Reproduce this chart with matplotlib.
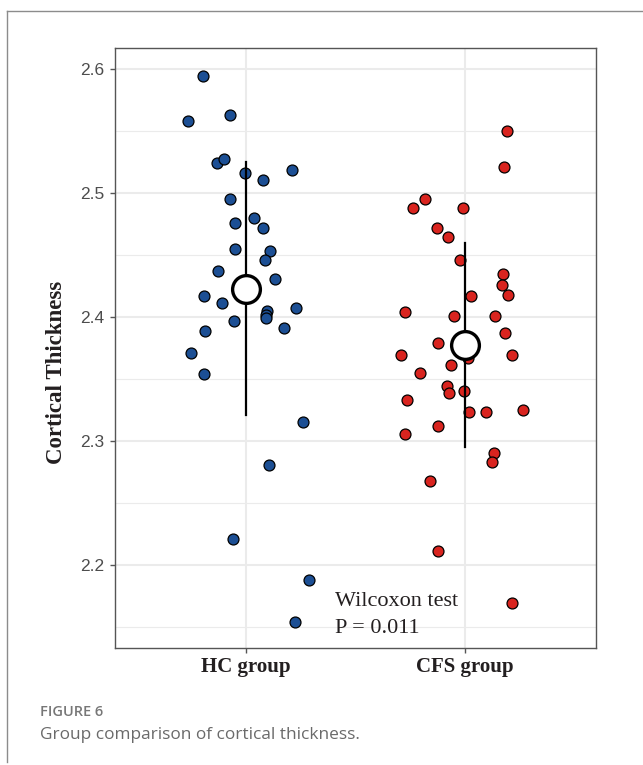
import matplotlib.pyplot as plt
from matplotlib.lines import Line2D

# Group labels
groups = ["HC group", "CFS group"]

# HC group: jittered x position and cortical thickness
hc_x = [0.802, 0.734, 0.924, 0.868, 0.900, 0.994, 1.078, 1.211, 0.925, 0.951,
        1.038, 1.078, 0.951, 1.111, 1.085, 0.871, 1.130, 0.805, 0.891, 1.096,
        1.091, 1.091, 1.228, 0.944, 1.173, 0.810, 0.749, 0.807, 1.261, 1.106,
        0.939, 1.289, 1.225]
hc_y = [2.595, 2.558, 2.563, 2.524, 2.528, 2.516, 2.511, 2.519, 2.495, 2.476,
        2.480, 2.472, 2.455, 2.453, 2.446, 2.437, 2.431, 2.417, 2.411, 2.405,
        2.402, 2.399, 2.407, 2.397, 2.391, 2.389, 2.371, 2.354, 2.315, 2.281,
        2.221, 2.188, 2.154]

# CFS group
cfs_x = [2.192, 2.180, 1.818, 1.761, 1.991, 1.872, 1.922, 1.980, 2.173, 2.169,
         2.197, 2.026, 1.728, 1.951, 2.137, 2.182, 1.878, 1.708, 2.214, 2.015,
         1.937, 1.794, 1.917, 1.928, 1.997, 1.737, 2.021, 2.096, 2.268, 1.878,
         1.726, 2.134, 2.126, 1.840, 1.877, 2.217]
cfs_y = [2.550, 2.521, 2.495, 2.488, 2.488, 2.472, 2.465, 2.446, 2.435, 2.426,
         2.418, 2.417, 2.404, 2.401, 2.401, 2.387, 2.379, 2.369, 2.369, 2.367,
         2.361, 2.355, 2.344, 2.339, 2.340, 2.333, 2.323, 2.323, 2.325, 2.312,
         2.306, 2.290, 2.283, 2.268, 2.211, 2.169]

# mean and sd per group
means = [2.423, 2.3775]
sds = [0.102, 0.082]

blue = "#1c4f94"
red = "#d9241f"

fig = plt.figure(figsize=(6.43, 7.65), dpi=100)
ax = fig.add_axes([115 / 643, 1 - 648 / 765, 481 / 643, 600 / 765])

ax.set_xlim(0.4, 2.6)
ax.set_ylim(2.1329, 2.6172)

# grid
for v in [2.15, 2.25, 2.35, 2.45, 2.55]:
    ax.axhline(v, color="#ebebeb", lw=0.8, zorder=0)
for v in [2.2, 2.3, 2.4, 2.5, 2.6]:
    ax.axhline(v, color="#ebebeb", lw=1.5, zorder=0)
for v in [1, 2]:
    ax.axvline(v, color="#ebebeb", lw=1.5, zorder=0)

ax.scatter(hc_x, hc_y, s=62, c=blue, edgecolors="black", linewidths=0.9, zorder=2)
ax.scatter(cfs_x, cfs_y, s=62, c=red, edgecolors="black", linewidths=0.9, zorder=2)

for i, (m, s) in enumerate(zip(means, sds)):
    ax.plot([i + 1, i + 1], [m - s, m + s], color="black", lw=1.6, zorder=3)
    ax.plot(i + 1, m, "o", ms=20, mfc="white", mec="black", mew=2.4, zorder=4)

ax.text(1.407, 2.1705, "Wilcoxon test", family="Liberation Serif", fontsize=16,
        color="#231f20", va="center")
ax.text(1.407, 2.1485, "P = 0.011", family="Liberation Serif", fontsize=16,
        color="#231f20", va="center")

ax.set_xticks([1, 2])
ax.set_xticklabels(groups, family="Liberation Serif", fontweight="bold",
                   fontsize=15, color="#231f20")
ax.set_yticks([2.2, 2.3, 2.4, 2.5, 2.6])
ax.set_yticklabels(["2.2", "2.3", "2.4", "2.5", "2.6"], family="Liberation Sans",
                   fontsize=12.5, color="#4d4d4d")
ax.tick_params(axis="both", color="#555555", length=3.3, width=1)
ax.tick_params(axis="y", pad=4.5)
ax.tick_params(axis="x", pad=3)

ax.set_ylabel("Cortical Thickness", family="Liberation Serif", fontweight="bold",
              fontsize=16.5, color="#231f20")
ax.yaxis.set_label_coords(-0.1, 1 - (372 - 48) / 600)

for sp in ax.spines.values():
    sp.set_color("#555555")
    sp.set_linewidth(1)

# page frame lines
fig.add_artist(Line2D([6.5 / 643, 1], [1 - 10.5 / 765, 1 - 10.5 / 765],
                      transform=fig.transFigure, color="#8c8c8c", lw=1))
fig.add_artist(Line2D([6.5 / 643, 6.5 / 643], [1 - 10.5 / 765, 1 - 762 / 765],
                      transform=fig.transFigure, color="#8c8c8c", lw=1))

fig.text(40 / 643, 1 - 712 / 765, "FIGURE 6", family="Open Sans", fontweight="semibold",
         fontsize=10.5, color="#777777", va="center")
fig.text(40 / 643, 1 - 735 / 765, "Group comparison of cortical thickness.",
         family="Open Sans", fontsize=12.4, color="#6a6a6a", va="center")

fig.savefig("out.png", dpi=100)
